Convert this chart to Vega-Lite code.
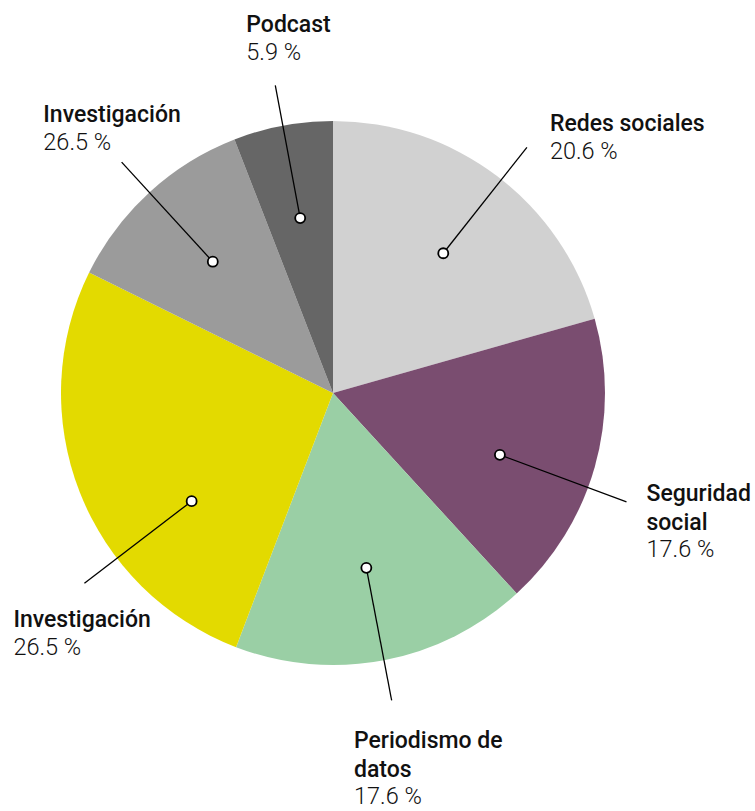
{
  "$schema": "https://vega.github.io/schema/vega-lite/v6.json",
  "width": 666,
  "height": 786,
  "autosize": "none",
  "padding": {"left": 0, "top": 0, "right": 89, "bottom": 25},
  "background": "white",
  "config": {"view": {"stroke": null}},
  "data": {
    "values": [
      {"id": "redes", "name": "Redes sociales", "value": 20.6, "label": "20.6 %", "order": 1},
      {"id": "seg", "name": "Seguridad\nsocial", "value": 17.6, "label": "17.6 %", "order": 2},
      {"id": "per", "name": "Periodismo de\ndatos", "value": 17.6, "label": "17.6 %", "order": 3},
      {"id": "inv1", "name": "Investigación", "value": 26.5, "label": "26.5 %", "order": 4},
      {"id": "inv2", "name": "Investigación", "value": 11.8, "label": "26.5 %", "order": 5},
      {"id": "pod", "name": "Podcast", "value": 5.9, "label": "5.9 %", "order": 6}
    ]
  },
  "transform": [
    {"window": [{"op": "sum", "field": "value", "as": "cum"}], "sort": [{"field": "order", "order": "ascending"}], "frame": [null, 0]},
    {"joinaggregate": [{"op": "sum", "field": "value", "as": "total"}]},
    {"calculate": "((datum.cum - datum.value / 2) / datum.total * 360 + (datum.id === 'inv1' ? -16 : datum.id === 'seg' ? 4.5 : datum.id === 'redes' ? 1.2 : 0)) * PI / 180", "as": "a"},
    {"calculate": "178 * sin(datum.a)", "as": "dx0"},
    {"calculate": "178 * cos(datum.a)", "as": "dy0"},
    {"calculate": "313 * sin(datum.a)", "as": "ex"},
    {"calculate": "313 * cos(datum.a)", "as": "ey"}
  ],
  "layer": [
    {
      "mark": {"type": "arc", "outerRadius": 272, "stroke": null},
      "encoding": {
        "theta": {"field": "value", "type": "quantitative", "stack": true},
        "order": {"field": "order", "type": "quantitative"},
        "color": {
          "field": "id",
          "type": "nominal",
          "scale": {
            "domain": ["redes", "seg", "per", "inv1", "inv2", "pod"],
            "range": ["#d1d1d1", "#7a4d70", "#9acfa5", "#e3da00", "#9b9b9b", "#666666"]
          },
          "legend": null
        }
      }
    },
    {
      "mark": {"type": "rule", "color": "#000000", "strokeWidth": 1.3},
      "encoding": {
        "x": {"field": "dx0", "type": "quantitative", "scale": {"domain": [-333, 333], "nice": false, "zero": false}, "axis": null},
        "y": {"field": "dy0", "type": "quantitative", "scale": {"domain": [-393, 393], "nice": false, "zero": false}, "axis": null},
        "x2": {"field": "ex"},
        "y2": {"field": "ey"}
      }
    },
    {
      "mark": {"type": "point", "shape": "circle", "filled": true, "fill": "#ffffff", "stroke": "#000000", "strokeWidth": 1.8, "size": 100, "opacity": 1},
      "encoding": {
        "x": {"field": "dx0", "type": "quantitative", "scale": {"domain": [-333, 333], "nice": false, "zero": false}, "axis": null},
        "y": {"field": "dy0", "type": "quantitative", "scale": {"domain": [-393, 393], "nice": false, "zero": false}, "axis": null}
      }
    },
    {
      "transform": [{"filter": "datum.id === 'redes'"}],
      "encoding": {
        "x": {"field": "ex", "type": "quantitative", "scale": {"domain": [-333, 333], "nice": false, "zero": false}, "axis": null},
        "y": {"field": "ey", "type": "quantitative", "scale": {"domain": [-393, 393], "nice": false, "zero": false}, "axis": null}
      },
      "layer": [
        {"mark": {"type": "text", "align": "left", "baseline": "alphabetic", "dx": 23, "dy": -16.5, "font": "Roboto", "fontSize": 23, "fontWeight": 500, "lineBreak": "\n", "lineHeight": 28.4, "color": "#111111"}, "encoding": {"text": {"field": "name"}}},
        {"mark": {"type": "text", "align": "left", "baseline": "alphabetic", "dx": 23, "dy": 11.8, "font": "Roboto", "fontSize": 23.5, "fontWeight": 300, "color": "#111111"}, "encoding": {"text": {"field": "label"}}}
      ]
    },
    {
      "transform": [{"filter": "datum.id === 'seg'"}],
      "encoding": {
        "x": {"field": "ex", "type": "quantitative", "scale": {"domain": [-333, 333], "nice": false, "zero": false}, "axis": null},
        "y": {"field": "ey", "type": "quantitative", "scale": {"domain": [-393, 393], "nice": false, "zero": false}, "axis": null}
      },
      "layer": [
        {"mark": {"type": "text", "align": "left", "baseline": "alphabetic", "dx": 20, "dy": -0.6, "font": "Roboto", "fontSize": 23, "fontWeight": 500, "lineBreak": "\n", "lineHeight": 28.4, "color": "#111111"}, "encoding": {"text": {"field": "name"}}},
        {"mark": {"type": "text", "align": "left", "baseline": "alphabetic", "dx": 20, "dy": 55.7, "font": "Roboto", "fontSize": 23.5, "fontWeight": 300, "color": "#111111"}, "encoding": {"text": {"field": "label"}}}
      ]
    },
    {
      "transform": [{"filter": "datum.id === 'per'"}],
      "encoding": {
        "x": {"field": "ex", "type": "quantitative", "scale": {"domain": [-333, 333], "nice": false, "zero": false}, "axis": null},
        "y": {"field": "ey", "type": "quantitative", "scale": {"domain": [-393, 393], "nice": false, "zero": false}, "axis": null}
      },
      "layer": [
        {"mark": {"type": "text", "align": "left", "baseline": "alphabetic", "dx": -37.7, "dy": 48, "font": "Roboto", "fontSize": 23, "fontWeight": 500, "lineBreak": "\n", "lineHeight": 28.4, "color": "#111111"}, "encoding": {"text": {"field": "name"}}},
        {"mark": {"type": "text", "align": "left", "baseline": "alphabetic", "dx": -37.7, "dy": 104, "font": "Roboto", "fontSize": 23.5, "fontWeight": 300, "color": "#111111"}, "encoding": {"text": {"field": "label"}}}
      ]
    },
    {
      "transform": [{"filter": "datum.id === 'inv1'"}],
      "encoding": {
        "x": {"field": "ex", "type": "quantitative", "scale": {"domain": [-333, 333], "nice": false, "zero": false}, "axis": null},
        "y": {"field": "ey", "type": "quantitative", "scale": {"domain": [-393, 393], "nice": false, "zero": false}, "axis": null}
      },
      "layer": [
        {"mark": {"type": "text", "align": "left", "baseline": "alphabetic", "dx": -71, "dy": 43.6, "font": "Roboto", "fontSize": 23, "fontWeight": 500, "lineBreak": "\n", "lineHeight": 28.4, "color": "#111111"}, "encoding": {"text": {"field": "name"}}},
        {"mark": {"type": "text", "align": "left", "baseline": "alphabetic", "dx": -71, "dy": 71.9, "font": "Roboto", "fontSize": 23.5, "fontWeight": 300, "color": "#111111"}, "encoding": {"text": {"field": "label"}}}
      ]
    },
    {
      "transform": [{"filter": "datum.id === 'inv2'"}],
      "encoding": {
        "x": {"field": "ex", "type": "quantitative", "scale": {"domain": [-333, 333], "nice": false, "zero": false}, "axis": null},
        "y": {"field": "ey", "type": "quantitative", "scale": {"domain": [-393, 393], "nice": false, "zero": false}, "axis": null}
      },
      "layer": [
        {"mark": {"type": "text", "align": "left", "baseline": "alphabetic", "dx": -78.3, "dy": -40.5, "font": "Roboto", "fontSize": 23, "fontWeight": 500, "lineBreak": "\n", "lineHeight": 28.4, "color": "#111111"}, "encoding": {"text": {"field": "name"}}},
        {"mark": {"type": "text", "align": "left", "baseline": "alphabetic", "dx": -78.3, "dy": -12.2, "font": "Roboto", "fontSize": 23.5, "fontWeight": 300, "color": "#111111"}, "encoding": {"text": {"field": "label"}}}
      ]
    },
    {
      "transform": [{"filter": "datum.id === 'pod'"}],
      "encoding": {
        "x": {"field": "ex", "type": "quantitative", "scale": {"domain": [-333, 333], "nice": false, "zero": false}, "axis": null},
        "y": {"field": "ey", "type": "quantitative", "scale": {"domain": [-393, 393], "nice": false, "zero": false}, "axis": null}
      },
      "layer": [
        {"mark": {"type": "text", "align": "left", "baseline": "alphabetic", "dx": -29, "dy": -53.6, "font": "Roboto", "fontSize": 23, "fontWeight": 500, "lineBreak": "\n", "lineHeight": 28.4, "color": "#111111"}, "encoding": {"text": {"field": "name"}}},
        {"mark": {"type": "text", "align": "left", "baseline": "alphabetic", "dx": -29, "dy": -25.3, "font": "Roboto", "fontSize": 23.5, "fontWeight": 300, "color": "#111111"}, "encoding": {"text": {"field": "label"}}}
      ]
    }
  ]
}
